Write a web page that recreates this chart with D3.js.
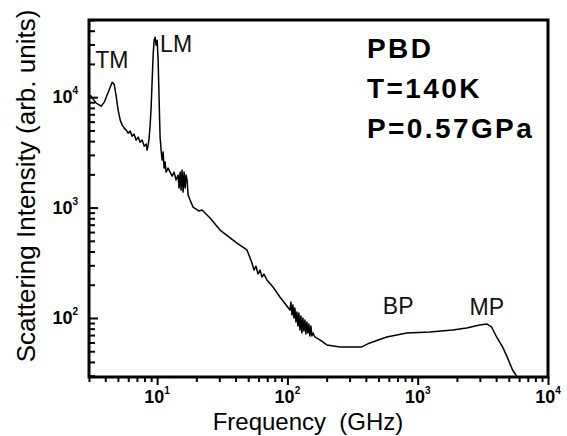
<!DOCTYPE html>
<html><head><meta charset="utf-8">
<script src="https://cdn.jsdelivr.net/npm/d3@7"></script>
<style>
html,body{margin:0;padding:0;background:#fff;}
svg{display:block;font-family:"Liberation Sans",Arial,sans-serif;}
</style></head>
<body><svg id="c" width="567" height="436"></svg>
<script>
// Frequency (GHz)
const freq = [3.07,3.23,3.41,3.72,3.93,4.21,4.52,4.68,4.85,5.02,5.21,5.39,5.59,5.79,5.99,6.21,6.43,6.66,6.91,7.15,7.41,7.68,7.95,8.24,8.38,8.53,8.68,8.84,8.99,9.16,9.32,9.48,9.65,9.82,10,10.18,10.36,10.54,10.73,10.92,11.12,11.31,11.52,11.72,12.14,12.58,13.03,13.5,13.98,14.48,14.74,15.01,15.27,15.54,15.82,16.1,16.39,16.68,16.98,17.28,17.9,18.88,19.9,20.98,22.12,22.92,24.16,25.48,30.4,41.02,48.94,53.46,55.38,57.37,59.43,61.57,63.77,66.06,69.65,77.44,87.6,104.5,106.4,108.3,110.2,112.1,114.1,116.2,118.3,120.4,122.5,124.7,126.9,129.1,131.5,133.8,136.2,138.6,141.1,143.6,146.1,148.7,151.4,154.1,156.8,162.5,177.5,200.8,252.6,317.6,372.4,428.8,578.9,823.6,1236,1854,2374,2987,3379,3690,4032,4480,4894,5346,5737];
// Scattering intensity (arb. units)
const intensity = [10420,9592,8823,8289,9012,11100,13670,13110,10210,7628,6194,5580,5243,5028,4723,4924,4438,4626,4082,4346,3915,4082,3603,3755,3315,3677,4256,5580,7953,14250,23990,32810,34910,29550,32810,21630,9395,4346,3315,2691,3180,2278,2581,2096,2278,2096,1928,2096,1774,1968,1502,2096,1440,2184,1381,2096,1502,1968,1774,1298,1169,1010,969,930,949,911,855,804,626,477,413,315,272,295,250,272,235,250,221,191,155,118,139.6,106.4,131.1,100,123.2,92,113.3,84.7,111,77.9,104.3,73.2,100,76.3,95.9,71.6,92,73.2,88.3,68.7,84.7,68.7,73.2,67.3,63.2,57,54.7,54.7,54.7,59.4,67.3,73.2,74.7,77.9,81.2,86.5,88.3,82.9,67.3,54.7,43.5,33.8,29.9];

const xMajor = [10,100,1000,10000];
const xMajorExp = ["1","2","3","4"];
const yMajor = [100,1000,10000];
const yMajorExp = ["2","3","4"];
const xDomain = [3,10000];
const yDomain = [29.2,50000];

const peakLabels = ["TM","LM","BP","MP"];
const peakFreq = [3.35,10.54,540,2500];
const peakInt = [18280,25520,108.6,106];
const infoLines = ["PBD","T=140K","P=0.57GPa"];

const L=89,R=548,T=20,B=377;
const svg = d3.select("#c");
const x = d3.scaleLog().domain(xDomain).range([L,R]);
const y = d3.scaleLog().domain(yDomain).range([B,T]);

function minors(dom){
  const out=[];
  for(let e=-1;e<6;e++){
    for(let k=2;k<=9;k++){
      const v=k*Math.pow(10,e);
      if(v>=dom[0]*0.999 && v<=dom[1]*1.001) out.push(v);
    }
  }
  return out;
}

svg.append("clipPath").attr("id","cp").append("rect")
  .attr("x",L).attr("y",T).attr("width",R-L).attr("height",B-T);

// x ticks (outward, below)
const gx = svg.append("g").attr("transform",`translate(0,${B})`);
gx.append("g").call(d3.axisBottom(x).tickValues(minors(xDomain)).tickSize(5).tickFormat(""))
  .call(g=>g.select(".domain").remove());
gx.append("g").call(d3.axisBottom(x).tickValues(xMajor).tickSize(8).tickFormat(""))
  .call(g=>g.select(".domain").remove());
gx.selectAll("line").attr("stroke","#000").attr("stroke-width",2);

// y ticks (inward)
const gy = svg.append("g").attr("transform",`translate(${L},0)`);
gy.append("g").call(d3.axisRight(y).tickValues(minors(yDomain)).tickSize(6).tickFormat(""))
  .call(g=>g.select(".domain").remove());
gy.append("g").call(d3.axisRight(y).tickValues(yMajor).tickSize(9).tickFormat(""))
  .call(g=>g.select(".domain").remove());
gy.selectAll("line").attr("stroke","#000").attr("stroke-width",2);

// x tick labels
xMajor.forEach((v,i)=>{
  const t = svg.append("text").attr("x",x(v)).attr("y",B+26)
    .attr("text-anchor","middle").attr("font-weight","bold").attr("font-size",18);
  t.append("tspan").text("10");
  t.append("tspan").attr("dy",-9).attr("font-size",10).text(xMajorExp[i]);
});
// y tick labels
yMajor.forEach((v,i)=>{
  const t = svg.append("text").attr("x",L-11).attr("y",y(v)+6)
    .attr("text-anchor","end").attr("font-weight","bold").attr("font-size",18);
  t.append("tspan").text("10");
  t.append("tspan").attr("dy",-9).attr("font-size",10).text(yMajorExp[i]);
});

// curve
const pts = freq.map((f,i)=>[f,intensity[i]]);
svg.append("path").datum(pts)
  .attr("clip-path","url(#cp)")
  .attr("fill","none").attr("stroke","#000").attr("stroke-width",1.5)
  .attr("stroke-linejoin","round")
  .attr("d",d3.line().x(d=>x(d[0])).y(d=>y(d[1])));

// frame
svg.append("rect").attr("x",L).attr("y",T).attr("width",R-L).attr("height",B-T)
  .attr("fill","none").attr("stroke","#000").attr("stroke-width",3);

// peak labels
peakLabels.forEach((s,i)=>{
  svg.append("text").attr("x",x(peakFreq[i])).attr("y",y(peakInt[i]))
    .attr("font-size",23).attr("fill","#111").text(s);
});

// info text
infoLines.forEach((s,i)=>{
  svg.append("text").attr("x",367).attr("y",58+i*40)
    .attr("font-size",28).attr("font-weight","bold").attr("letter-spacing",2.4).text(s);
});

// axis titles
svg.append("text").attr("x",308).attr("y",430).attr("text-anchor","middle")
  .attr("font-size",24).attr("xml:space","preserve").style("white-space","pre")
  .text("Frequency  (GHz)");
svg.append("text").attr("transform","translate(35,186) rotate(-90)")
  .attr("text-anchor","middle").attr("font-size",26)
  .text("Scattering Intensity (arb. units)");
</script></body></html>
